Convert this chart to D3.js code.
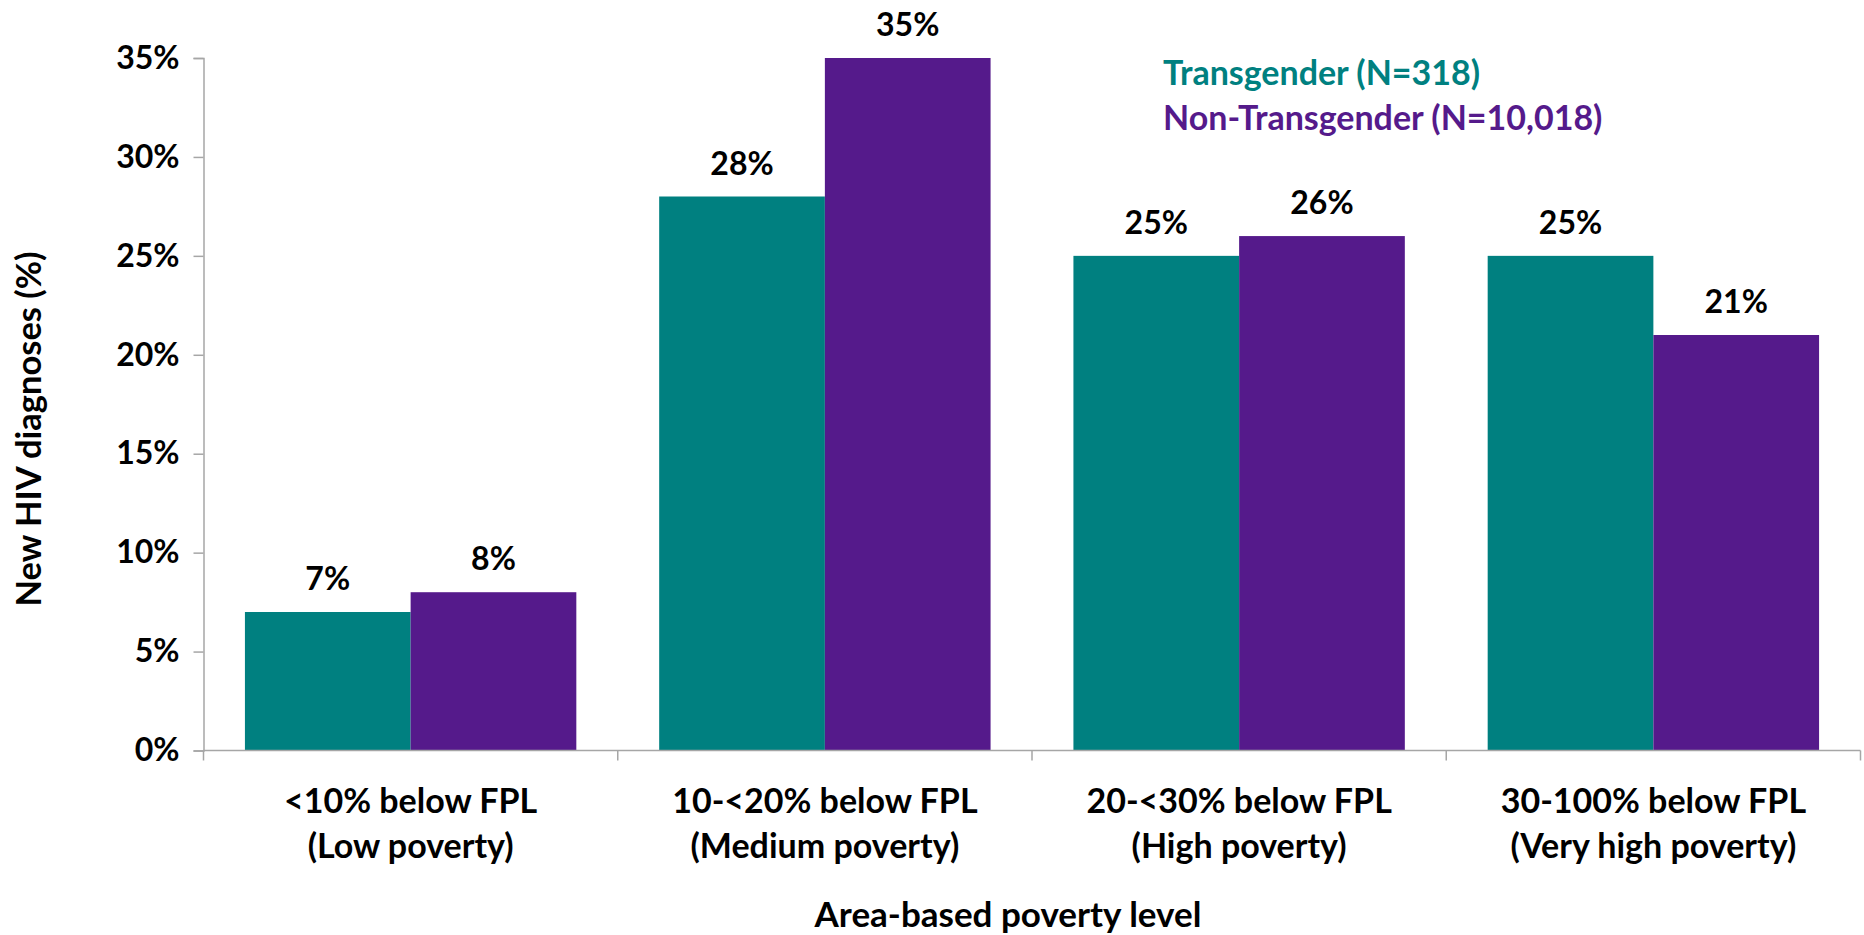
<!DOCTYPE html>
<html>

<head>
    <script src="https://d3js.org/d3.v7.min.js"></script>
    <style>
        body {
            margin: 0;
            background: #fff;
        }

        text {
            font-family: Lato, "Open Sans", sans-serif;
            font-weight: bold;
        }
    </style>
</head>

<body>
    <svg id="chart" width="1864" height="935"></svg>

    <script>
        // data
        const categories = [
            ["<10% below FPL", "(Low poverty)"],
            ["10-<20% below FPL", "(Medium poverty)"],
            ["20-<30% below FPL", "(High poverty)"],
            ["30-100% below FPL", "(Very high poverty)"]
        ];
        const transgender = [7, 28, 25, 25];
        const nonTransgender = [8, 35, 26, 21];
        const seriesNames = ["Transgender (N=318)", "Non-Transgender (N=10,018)"];
        const seriesColors = ["#008080", "#551a8b"];
        const yTicks = [0, 5, 10, 15, 20, 25, 30, 35];

        const svg = d3.select("#chart");
        const margin = { top: 58, right: 3.5, bottom: 184.5, left: 203.5 };
        const width = 1864 - margin.left - margin.right;
        const height = 935 - margin.top - margin.bottom;

        const g = svg.append("g")
            .attr("transform", `translate(${margin.left},${margin.top})`);

        const x0 = d3.scaleBand()
            .domain(d3.range(categories.length))
            .range([0, width])
            .paddingInner(0.2)
            .paddingOuter(0.1);

        // band edges for the category ticks
        const step = width / categories.length;

        const x1 = d3.scaleBand()
            .domain([0, 1])
            .range([0, x0.bandwidth()]);

        const y = d3.scaleLinear()
            .domain([0, 35])
            .range([height, 0]);

        // y axis
        const yAxis = g.append("g")
            .call(d3.axisLeft(y).tickValues(yTicks).tickSize(10).tickPadding(14).tickFormat(d => d + "%"));
        yAxis.select(".domain").attr("stroke", "#a6a6a6").attr("stroke-width", 1.5);
        yAxis.selectAll(".tick line").attr("stroke", "#a6a6a6").attr("stroke-width", 1.5);
        yAxis.selectAll(".tick text")
            .attr("font-size", 32)
            .attr("fill", "#000")
            .attr("font-family", "Lato, sans-serif");

        // bars
        const rows = categories.map((c, i) => [transgender[i], nonTransgender[i]]);

        const groups = g.selectAll(".grp")
            .data(rows)
            .join("g")
            .attr("class", "grp")
            .attr("transform", (d, i) => `translate(${x0(i)},0)`);

        groups.selectAll("rect")
            .data(d => d)
            .join("rect")
            .attr("x", (d, j) => x1(j))
            .attr("y", d => y(d))
            .attr("width", x1.bandwidth())
            .attr("height", d => height - y(d))
            .attr("fill", (d, j) => seriesColors[j]);

        groups.selectAll(".val")
            .data(d => d)
            .join("text")
            .attr("class", "val")
            .attr("x", (d, j) => x1(j) + x1.bandwidth() / 2)
            .attr("y", d => y(d) - 22)
            .attr("text-anchor", "middle")
            .attr("font-size", 32)
            .text(d => d + "%");

        // x axis line and category ticks
        const xAxis = g.append("g").attr("transform", `translate(0,${height})`);
        xAxis.append("line")
            .attr("x1", 0).attr("x2", width)
            .attr("stroke", "#a6a6a6").attr("stroke-width", 1.5);
        xAxis.selectAll(".xt")
            .data(d3.range(categories.length + 1))
            .join("line")
            .attr("class", "xt")
            .attr("x1", d => d * step).attr("x2", d => d * step)
            .attr("y1", 0).attr("y2", 10)
            .attr("stroke", "#a6a6a6").attr("stroke-width", 1.5);

        const catLabels = xAxis.selectAll(".cat")
            .data(categories)
            .join("text")
            .attr("class", "cat")
            .attr("text-anchor", "middle")
            .attr("font-size", 34)
            .attr("transform", (d, i) => `translate(${x0(i) + x0.bandwidth() / 2},0)`);
        catLabels.selectAll("tspan")
            .data(d => d)
            .join("tspan")
            .attr("x", 0)
            .attr("y", (d, k) => 62 + k * 45)
            .text(d => d);

        // axis titles
        svg.append("text")
            .attr("x", 1008)
            .attr("y", 927)
            .attr("text-anchor", "middle")
            .attr("font-size", 35)
            .text("Area-based poverty level");

        svg.append("text")
            .attr("transform", "translate(41,429) rotate(-90)")
            .attr("text-anchor", "middle")
            .attr("font-size", 34.5)
            .text("New HIV diagnoses (%)");

        // legend
        svg.selectAll(".leg")
            .data(seriesNames)
            .join("text")
            .attr("class", "leg")
            .attr("x", 1163)
            .attr("y", (d, i) => 85 + i * 45)
            .attr("font-size", 34)
            .attr("fill", (d, i) => seriesColors[i])
            .text(d => d);
    </script>
</body>

</html>
